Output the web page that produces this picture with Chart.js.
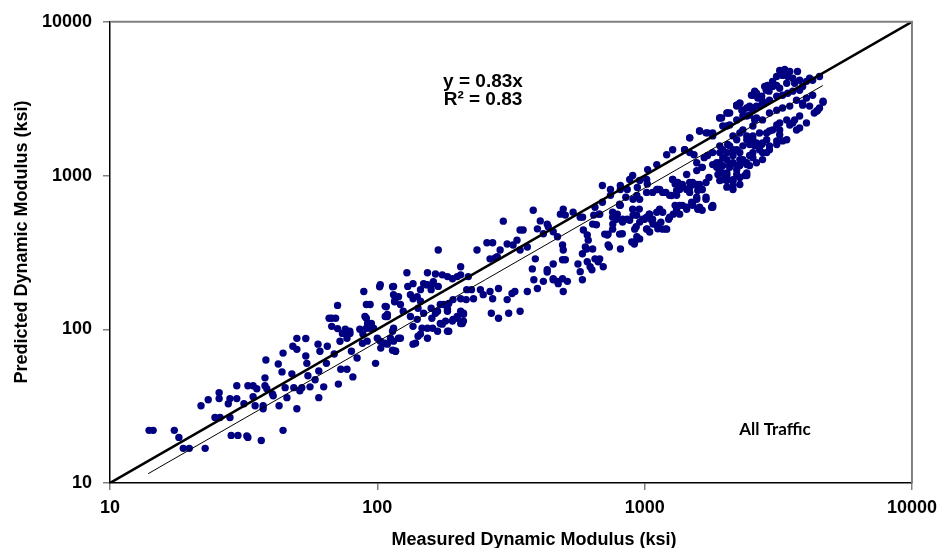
<!DOCTYPE html>
<html lang="en">
<head>
<meta charset="UTF-8">
<title>Predicted vs Measured Dynamic Modulus</title>
<script src="https://cdn.jsdelivr.net/npm/chart.js@4.4.1/dist/chart.umd.min.js"></script>
<style>
    body { margin: 0; background: #fff; }
    #chart { display: block; }
</style>
</head>
<body>
<canvas id="chart" width="944" height="548"></canvas>
<script>
// axis ticks (ksi)
const tickValues = [10, 100, 1000, 10000];
const tickLabels = ['10', '100', '1000', '10000'];

// line of equality and fitted trend (ends)
const equalityX = [10, 10000];
const equalityY = [10, 10000];
const trendX = [13.9, 4640];
const trendY = [11.5, 3850];

// [measured, predicted] pairs, ksi
const lowRange = [
    [14,22],[14.5,22],[17.4,22],[18.1,19.8],[18.8,16.8],[19.8,16.8],[22.7,16.8],[21.9,31.8],[23.3,34.8],[25.6,38.7],
    [25.6,35.4],[24.7,26.7],[25.8,26.7],[28.1,26.7],[28.4,20.4],[30.1,20.4],[32.5,20.2],[32.8,19.8],[36.8,18.9],[44.4,22],
    [27.7,32.8],[28.1,35.4],[29.8,35.4],[29.8,42.9],[31.7,32.8],[32.8,42.9],[34.3,42.9],[34.3,36.4],[34.9,31.8],[35.4,41],
    [37.4,30.4],[37.4,31.8],[38,42.9],[38.6,41],[38,48.3],[38.3,63.1],[40.5,38],[40.8,36.9],[42.9,31.8],[42.6,59.5],
    [44,52.8],[44.4,70],[45.2,41.7],[45.9,35.9],[47.9,51.3],[48.3,77.6],[50,87.3],[50,74],[50,30.4],[48.7,41.7],
    [51.3,39.8],[52.2,41.7],[54,87],[54,67],[54.5,60],[55,49.8],[56,42.2],[58.5,46.9],[60.4,53.5],[60.4,35.9],
    [60,80],[61,72],[63,42.2],[64.5,60],[65,77.6],[66,118],[67.5,118],[69.8,118],[67.5,104.5],[71,101],
    [71,143],[71.5,44],[73,55],[77,55],[69,69],[72.5,83.5],[74,94],[77,97],[79,94],[80,72],
    [81,49],[84,65],[88,81],[89,176],[91,145],[94,145],[91,118],[92,109],[95,109],[91,101.5],
    [94,101.5],[98.5,60],[75.9,100],[78.9,97],[77,87.5],[86,100],[89.9,121],
    [92.4,109],[96.8,101.5],[88.3,93],[91.6,83.7]
];

const midRange = [
    [102,189],[108,140],[109,125],[109,80],[114,73],[114,189],[115,168],[116,151],
    [102.6,195],[107,141],[107,121],[115,190],[116.5,156],[120,163],[122,145],[125,131],[130,190],[133,168],
    [136,198],[141,163],[145,181],[149,198],[154,195],[159,181],[162,204],[169,190],
    [102.6,83.7],[107,81.2],[112,87.5],[115,101.5],[117,72],[122,87.5],[136,80],[142,90.1],[147,101.5],[154,101.5],
    [160,118],[168,97],[175,108],[180,113],[185,97],[191,113],[199,118],[205,131],[210,125],[210,113],[205,109],
    [136,158],[145,152],[142,137],[149,127],[159,137],[165,127],[172,145],[183,135],[185,147],[192,156],[205,158],[215,156],
    [229,158],[243,181],[249,168],[264,176],[270,158],[284,184],[306,156],[319,171],[327,176],[342,131],[267,127],[284,118],[310,127],
    [364,176],[397,184],[385,210],[418,205],[432,236],[455,213],[472,205],[493,213],[496,176],[455,266],[493,283],
    [383,594],[296,505],[169,328],[129,233],[154,233],[165,229],[175,226],[183,220],[191,213],[205,255],[205,226],[219,220],
    [236,328],[257,365],[270,365],[276,291],[264,287],[281,296],[288,328],[306,359],[322,353],[333,380],[342,442],[351,442],
    [342,328],[364,343],[390,287],[380,247],[397,450],[407,507],[418,418],[432,483],[436,465],[484,561],[496,605],[505,553],
    [540,578],[455,431],[472,400],[493,353],[496,328],[505,283],[432,244],[455,210],[514,205],[475,198],
    [574,536],[590,442],[585,310],[563,266],[574,237],[585,210],[586,536],[216,181],[225,181],[199,220],
    [100,87.5],[109,121],[114,97],[115,83.7],[120,87.5],[105,81.2],[103,75.4],[117,72],[139,81.2],[145,93],
    [154,87.5],[133,121],[136,104.5],[141,116],[161,101.5],[172,109],[183,97],[168,131],[177,145],[183,131],
    [199,121],[208,109],[210,127],[192,116],[160,195],[152,195]
];

const highRange = [
    [610,410],[615,380],[600,343],[610,275],[625,255],[635,244],[652,287],[670,275],[700,255],
    [645,553],[675,561],[660,478],[652,622],[725,410],[730,353],[760,483],[785,520],[790,561],[811,640],[825,418],
    [895,370],[915,359],[935,400],[860,520],[905,553],[955,605],[930,465],[1000,520],[1040,561],[1020,450],
    [1075,483],[1120,450],[1150,497],[1200,450],[1230,520],[1280,561],[1300,640],[1260,742],[1120,812],[1200,777],
    [1300,880],[811,812],[850,722],[905,700],[935,742],[695,862],[745,812],[811,862],[861,812],[939,837],[1023,880],
    [879,942],[902,1000],[958,928],[1017,942],[1026,1093],[1110,1178],[1209,1366],[1273,1471],[1411,1471],[1474,1758],
    [1605,1950],[1720,1895],[1797,1895],[1908,2370],[2045,2550],[2210,2870],[2270,2960],
    [759,577],[827,520],[879,512],[933,552],[983,520],[1044,561],[1071,520],[1138,604],[1168,448],[1240,536],
    [1317,604],[1352,561],[1436,622],[1511,640],[1566,700],[1605,622],[1697,700],[1641,812],[1797,622],[1474,777],
    [1384,862],[1273,942],[1168,777],[1110,812],[1240,743],[958,700],[1017,777],[1071,777],[1138,812],[1317,743],
    [1352,812],[1511,901],[1566,875],[1605,862],[745,743],[806,640],[902,604],[1017,448],[1110,476],[1209,448],
    [709,416],[806,416],[918,370],[958,387],[1044,429],
    [607,333],[639,333],[679,287],[738,343],[812,333],[730,416],[759,448],[827,498],
    [918,448],[958,498],[1017,536],[1062,512],[1110,577],[1168,577],[1317,577],[1352,640],[1436,604],
    [1499,670],[1580,604],[1641,594],[1780,622],[639,483],[679,561],[759,536],[695,670],[806,650]
];

const topRange = [
    [3200,4830],[3340,4900],[3490,4750],[3730,4750],[3116,4410],[3280,4480],[3430,4410],[3580,4290],[3010,4100],[2883,3860],
    [2812,3800],[2986,3800],[3116,3860],[3200,3700],[3400,3980],[3640,3980],[3800,4170],[4030,4100],[4250,4170],[4510,4410],[4140,4290],
    [2540,3330],[2620,3430],[2740,3280],[2850,3590],[2920,3540],[3010,3800],[2210,2870],[2270,2960],[2410,2750],[2470,2830],
    [2540,2660],[2690,2830],[2810,2960],[2930,3090],[3120,3280],[3280,3330],[3430,3430],[3580,3540],[3800,3590],[3900,3800],
    [1910,2370],[2030,2550],[1960,2100],[2080,2130],[2210,2300],[2330,2440],[2470,2470],[2620,2370],[2760,2300],[2930,2550],
    [3120,2660],[3280,2750],[3490,2830],[3700,3090],[3900,2960],[4140,2830],[4400,2620],[4650,3000],[4510,2750],[4030,3190],[4250,3330],
    [3400,2300],[3580,2200],[3800,2440],[4030,2200],[3700,1980],[3200,1980],[3400,1710],[3120,1680],[2930,1560],[2860,1410],
    [2690,1470],[2760,1270],[2540,1410],[2620,1210],[2410,1210],[2270,1270],[2210,1090],[2080,1130],[2030,1000],[2140,940],
    [1960,940],[2030,840],[2140,860],[2270,875],[2410,1000],[2470,1160],[2760,1630],[2860,1890],[3010,1980],[3200,2200],
    [2930,1950],[3120,2130],[3200,1840],[2690,1890],[2540,1710],[2860,1710],[2470,1590],[2620,1630],[2330,1560],[2210,1470],
    [2270,1410],[2140,1350],[2030,1270],[1910,1210],[1960,1160],[1860,1130],[1910,1410],[2080,1560],[2210,1710],[2410,1810],
    [2540,2100],[2330,1980],
    [1474,1410],[1566,1210],[1641,1130],[1720,1350],[1797,1410],[1860,1210],[1960,1470],[2045,1590],[2140,1410],[1910,1090],
    [2030,1040],[2140,1210],[2270,1160],
    [1273,942],[1330,901],[1317,800],[1384,875],[1436,812],[1474,901],[1530,875],[1580,800],[1641,812],[1697,901],
    [2030,2100],[2210,2830],[2330,2660],[2410,2440],[2510,2750],[2580,2300],[2140,1810],[2270,1890],
    [2410,1710],[2540,1810],[1910,1560],[2030,1410],[2140,1470],[2330,1270],[2470,1350],[2210,1160],[2410,1040],[2030,940],
    [2140,928],[2270,970],[1910,928],
    [1940,2370],[2080,2550],[2240,2870],[2310,2660],[2510,3330],[2580,3540],[2650,3190],[2620,2830],[2760,3040],
    [1474,1758],[1605,1950],[1697,1895],[1797,1810],[1411,1471],[1530,1366],[1670,1307],[1436,1015],[1566,1077],[1641,1130],
    [1797,1178],[1960,1307],[1474,837],[1605,875],[1740,970],[1880,1015],[1566,722],[1697,722],[1797,640],[1384,640],[1511,650],
    [2030,928],[2140,812],[1960,1040],[2210,1015],[2370,1000],[2540,1307],[2760,1410],[2930,1471],[3120,1590],[3280,1680],
    [2740,1590],[2580,1560],[2410,1178],[2270,1178],[2080,1178],
    [4650,3040],[4440,2660],[4310,2550],[3900,2870],[3800,2040],[3640,2300],[3490,2130]
];

const BOLD = '"Liberation Sans", Arial, sans-serif';
const NAVY = '#000080';

const toXY = pairs => pairs.map(p => ({ x: p[0], y: p[1] }));
const linePts = (xs, ys) => xs.map((x, i) => ({ x: x, y: ys[i] }));

const pointSet = (label, pairs) => ({
    label: label,
    data: toXY(pairs),
    pointStyle: 'circle',
    pointRadius: 3.7,
    pointBorderWidth: 0,
    backgroundColor: NAVY,
    borderColor: NAVY,
    showLine: false
});

// frame (grey top/right), equation labels and axis titles
const decorations = {
    id: 'decorations',
    afterDraw(chart) {
        const ctx = chart.ctx;
        const a = chart.chartArea;
        ctx.save();
        ctx.strokeStyle = '#808080';
        ctx.lineWidth = 2;
        ctx.beginPath();
        ctx.moveTo(a.left, a.top);
        ctx.lineTo(a.right, a.top);
        ctx.lineTo(a.right, a.bottom);
        ctx.stroke();

        ctx.fillStyle = '#000';
        ctx.textAlign = 'center';
        ctx.textBaseline = 'alphabetic';
        ctx.font = 'bold 19px ' + BOLD;
        ctx.fillText('y = 0.83x', 483, 87);
        ctx.fillText('R² = 0.83', 483, 105);

        ctx.font = 'bold 17px Lato, ' + BOLD;
        ctx.fillText('All Traffic', 775, 435);

        ctx.font = 'bold 18px ' + BOLD;
        ctx.fillText('Measured Dynamic Modulus (ksi)', 534, 545);

        ctx.translate(27, 242);
        ctx.rotate(-Math.PI / 2);
        ctx.fillText('Predicted Dynamic Modulus (ksi)', 0, 0);
        ctx.restore();
    }
};

const axisTicks = scale => {
    scale.ticks = tickValues.map(v => ({ value: v }));
};
const tickText = value => tickLabels[tickValues.indexOf(value)];

new Chart(document.getElementById('chart'), {
    type: 'scatter',
    data: {
        datasets: [
            {
                label: 'Line of equality',
                data: linePts(equalityX, equalityY),
                showLine: true,
                borderColor: '#000',
                borderWidth: 2.5,
                pointRadius: 0
            },
            {
                label: 'Trend',
                data: linePts(trendX, trendY),
                showLine: true,
                borderColor: '#000',
                borderWidth: 1,
                pointRadius: 0
            },
            pointSet('low', lowRange),
            pointSet('mid', midRange),
            pointSet('high', highRange),
            pointSet('top', topRange)
        ]
    },
    options: {
        responsive: false,
        animation: false,
        layout: { padding: { top: 18, right: 32, left: 0, bottom: 0 } },
        plugins: {
            legend: { display: false },
            tooltip: { enabled: false }
        },
        scales: {
            x: {
                type: 'logarithmic',
                min: 10,
                max: 10000,
                afterBuildTicks: axisTicks,
                afterFit: s => { s.height = 65; },
                border: { display: true, color: '#000', width: 1.5 },
                grid: { drawOnChartArea: false, tickLength: 7, color: '#808080', lineWidth: 1.5 },
                ticks: {
                    autoSkip: false,
                    maxRotation: 0,
                    padding: 7,
                    color: '#000',
                    font: { family: BOLD, size: 18, weight: 'bold' },
                    callback: tickText
                }
            },
            y: {
                type: 'logarithmic',
                min: 10,
                max: 10000,
                afterBuildTicks: axisTicks,
                afterFit: s => { s.width = 110; },
                border: { display: true, color: '#000', width: 1.5 },
                grid: { drawOnChartArea: false, tickLength: 7, color: '#808080', lineWidth: 1.5 },
                ticks: {
                    autoSkip: false,
                    padding: 11,
                    color: '#000',
                    font: { family: BOLD, size: 18, weight: 'bold' },
                    callback: tickText
                }
            }
        }
    },
    plugins: [decorations]
});
</script>
</body>
</html>
